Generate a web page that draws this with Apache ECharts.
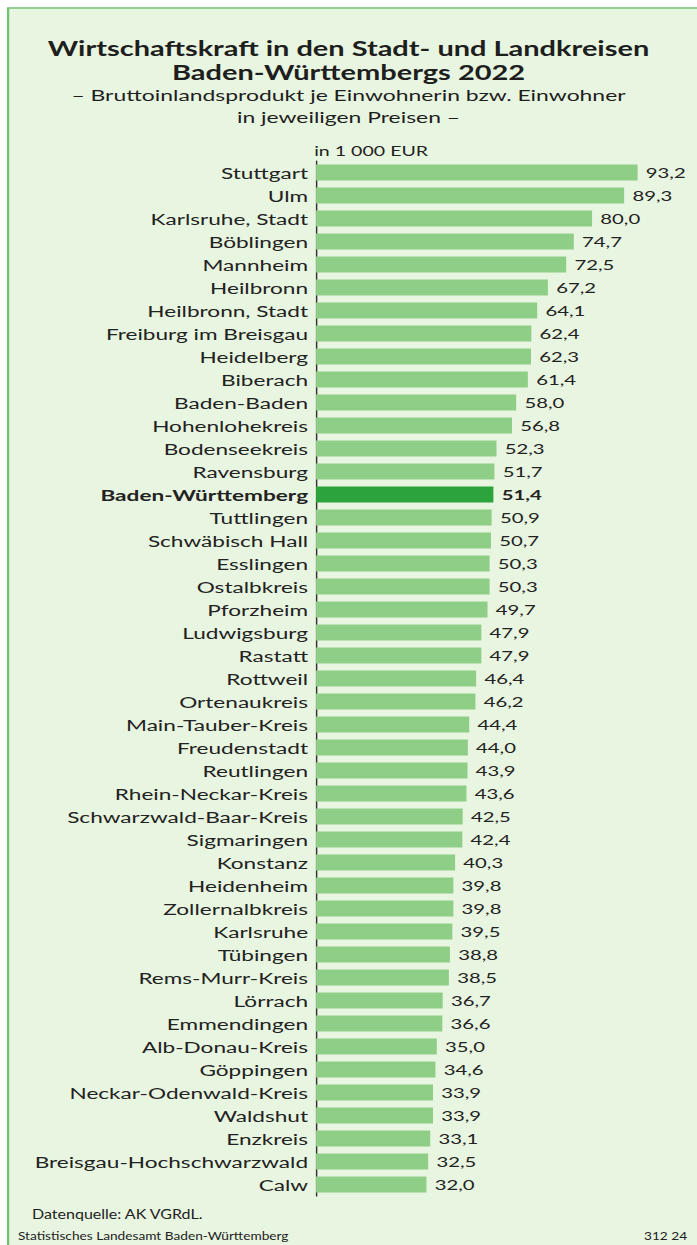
<!DOCTYPE html>
<html>
<head>
<meta charset="utf-8">
<script src="https://cdn.jsdelivr.net/npm/echarts@6/dist/echarts.min.js"></script>
<style>
html,body{margin:0;padding:0;background:#fff;overflow:hidden;}
#wrap{width:697px;height:1245px;overflow:hidden;}
#chart{width:481px;height:1245px;transform:scaleX(1.449064);transform-origin:0 0;}
</style>
</head>
<body>
<div id="wrap"><div id="chart"></div></div>
<script>
const categories = ["Stuttgart","Ulm","Karlsruhe, Stadt","Böblingen","Mannheim","Heilbronn","Heilbronn, Stadt","Freiburg im Breisgau","Heidelberg","Biberach","Baden-Baden","Hohenlohekreis","Bodenseekreis","Ravensburg","Baden-Württemberg","Tuttlingen","Schwäbisch Hall","Esslingen","Ostalbkreis","Pforzheim","Ludwigsburg","Rastatt","Rottweil","Ortenaukreis","Main-Tauber-Kreis","Freudenstadt","Reutlingen","Rhein-Neckar-Kreis","Schwarzwald-Baar-Kreis","Sigmaringen","Konstanz","Heidenheim","Zollernalbkreis","Karlsruhe","Tübingen","Rems-Murr-Kreis","Lörrach","Emmendingen","Alb-Donau-Kreis","Göppingen","Neckar-Odenwald-Kreis","Waldshut","Enzkreis","Breisgau-Hochschwarzwald","Calw"];
const values = [93.2,89.3,80.0,74.7,72.5,67.2,64.1,62.4,62.3,61.4,58.0,56.8,52.3,51.7,51.4,50.9,50.7,50.3,50.3,49.7,47.9,47.9,46.4,46.2,44.4,44.0,43.9,43.6,42.5,42.4,40.3,39.8,39.8,39.5,38.8,38.5,36.7,36.6,35.0,34.6,33.9,33.9,33.1,32.5,32.0];
const highlight = "Baden-Württemberg";
const titleLines = ["Wirtschaftskraft in den Stadt- und Landkreisen","Baden-Württembergs 2022"];
const subtitleLines = ["– Bruttoinlandsprodukt je Einwohnerin bzw. Einwohner","in jeweiligen Preisen –"];
const unitText = "in 1 000 EUR";
const sourceText = "Datenquelle: AK VGRdL.";
const footerLeft = "Statistisches Landesamt Baden-Württemberg";
const footerRight = "312 24";

const FONT = "Lato";
const LIGHT = "#8fce86";
const DARK = "#2da33b";
const TEXT = "#222222";
const fmt = v => v.toFixed(1).replace('.', ',');

const seriesData = values.map((v, i) => {
  if (categories[i] === highlight) {
    return {value: v, itemStyle: {color: DARK}, label: {fontWeight: 'bold'}};
  }
  return v;
});

const chart = echarts.init(document.getElementById('chart'), null, {renderer: 'svg'});
chart.setOption({
  backgroundColor: '#ffffff',
  animation: false,
  graphic: [
    {type: 'rect', z: -10, shape: {x: 5.6, y: 8, width: 500, height: 1250},
     style: {fill: '#e8f5e0', stroke: '#74c174', lineWidth: 1.6}},
    {type: 'text', x: 240.5, y: 36, style: {text: titleLines.join('\n'), fontFamily: FONT, fontSize: 20, fontWeight: 'bold', fill: '#1e1e1e', align: 'center', verticalAlign: 'top', lineHeight: 24}},
    {type: 'text', x: 240.5, y: 84, style: {text: subtitleLines.join('\n'), fontFamily: FONT, fontSize: 15.8, fill: '#1e1e1e', align: 'center', verticalAlign: 'top', lineHeight: 22}},
    {type: 'text', x: 216.8, y: 151, style: {text: unitText, fontFamily: FONT, fontSize: 13.5, fill: TEXT, verticalAlign: 'middle'}},
    {type: 'text', x: 22.1, y: 1214, scaleX: 0.884, style: {text: sourceText, fontFamily: FONT, fontSize: 12.5, fill: TEXT, verticalAlign: 'middle'}},
    {type: 'text', x: 12.4, y: 1236, scaleX: 0.858, style: {text: footerLeft, fontFamily: FONT, fontSize: 11, fill: TEXT, verticalAlign: 'middle'}},
    {type: 'text', x: 474.2, y: 1236, scaleX: 0.858, style: {text: footerRight, fontFamily: FONT, fontSize: 11, fill: TEXT, align: 'right', verticalAlign: 'middle'}}
  ],
  grid: {left: 218.1, top: 161, width: 238.1, height: 1035, containLabel: false},
  xAxis: {type: 'value', min: 0, max: 100, show: false},
  yAxis: {
    type: 'category', data: categories, inverse: true,
    axisLine: {show: true, lineStyle: {color: '#333', width: 1}},
    axisTick: {show: false},
    axisLabel: {
      margin: 5.5, fontFamily: FONT, fontSize: 15.6, color: TEXT,
      formatter: v => v === highlight ? '{b|' + v + '}' : v,
      rich: {b: {fontWeight: 'bold', fontFamily: FONT, fontSize: 15.6, color: TEXT}}
    }
  },
  series: [{
    type: 'bar', data: seriesData, barWidth: 16,
    itemStyle: {color: LIGHT},
    label: {show: true, position: 'right', distance: 5.7, fontFamily: FONT, fontSize: 14, color: TEXT,
      formatter: p => fmt(p.value)}
  }]
});
</script>
</body>
</html>
